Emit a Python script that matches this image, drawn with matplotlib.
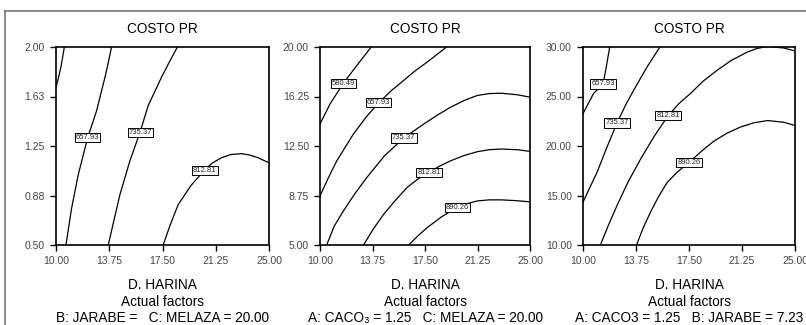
import matplotlib
matplotlib.use("Agg")
import matplotlib.pyplot as plt
from matplotlib.lines import Line2D

plt.rcParams['font.family'] = ['Liberation Sans', 'DejaVu Sans']

x_ticks = [10.0, 13.75, 17.5, 21.25, 25.0]
x_ticklabels = ["10.00", "13.75", "17.50", "21.25", "25.00"]

# Panel 1: axis 0.5-2.0
p1_yticks = [0.5, 0.875, 1.25, 1.625, 2.0]
p1_yticklabels = ["0.50", "0.88", "1.25", "1.63", "2.00"]
p1_c580 = [(10.59, 2.0), (10.35, 1.85), (10.16, 1.76), (10.0, 1.695)]
p1_c658 = [(13.91, 2.0), (13.7, 1.89), (13.45, 1.771), (12.86, 1.517), (12.23, 1.313),
           (11.57, 1.034), (11.10, 0.78), (10.70, 0.5)]
p1_c735 = [(18.55, 2.0), (18.0, 1.89), (17.43, 1.771), (16.49, 1.555), (15.91, 1.352),
           (15.20, 1.136), (14.50, 0.881), (13.68, 0.5)]
p1_c813 = [(17.55, 0.5), (18.0, 0.64), (18.60, 0.805), (19.5, 0.95), (20.43, 1.064),
           (21.0, 1.12), (21.65, 1.161), (22.3, 1.185), (23.06, 1.192), (23.7, 1.18),
           (24.23, 1.161), (25.0, 1.123)]
p1_labels = [("657.93", 12.23, 1.313), ("735.37", 15.95, 1.352), ("812.81", 20.47, 1.064)]

# Panel 2: axis 5-20
p2_yticks = [5.0, 8.75, 12.5, 16.25, 20.0]
p2_yticklabels = ["5.00", "8.75", "12.50", "16.25", "20.00"]
p2_c580 = [(10.0, 14.17), (10.72, 15.69), (11.67, 17.26), (12.63, 18.6), (13.66, 20.0)]
p2_c658 = [(10.0, 8.72), (10.6, 10.1), (11.2, 11.38), (12.39, 13.41), (13.3, 14.7),
           (14.19, 15.77), (15.1, 16.7), (15.98, 17.47), (16.8, 18.2), (17.66, 18.86),
           (19.04, 20.0)]
p2_c735 = [(10.48, 5.0), (11.0, 6.4), (11.67, 7.58), (12.5, 8.9), (13.35, 10.12),
           (14.6, 11.75), (15.98, 13.11), (17.42, 14.17), (18.4, 14.85), (19.33, 15.44),
           (20.3, 15.95), (21.24, 16.33), (22.1, 16.47), (22.92, 16.5), (24.11, 16.38),
           (25.0, 16.2)]
p2_c813 = [(13.11, 5.0), (13.8, 6.2), (14.55, 7.33), (15.4, 8.4), (16.22, 9.36),
           (17.0, 10.0), (17.78, 10.5), (18.5, 10.95), (19.33, 11.38), (20.3, 11.78),
           (21.24, 12.07), (22.1, 12.22), (22.92, 12.27), (24.11, 12.22), (25.0, 12.09)]
p2_c890 = [(16.34, 5.0), (17.0, 5.7), (17.66, 6.32), (18.7, 7.15), (19.81, 7.84),
           (20.5, 8.13), (21.24, 8.34), (22.1, 8.42), (22.92, 8.42), (24.0, 8.36),
           (25.0, 8.27)]
p2_labels = [("580.49", 11.67, 17.26), ("657.93", 14.19, 15.77), ("735.37", 15.98, 13.11),
             ("812.81", 17.78, 10.5), ("890.26", 19.81, 7.84)]

# Panel 3: axis 10-30
p3_yticks = [10.0, 15.0, 20.0, 25.0, 30.0]
p3_yticklabels = ["10.00", "15.00", "20.00", "25.00", "30.00"]
p3_c658 = [(10.0, 23.27), (10.76, 25.33), (11.42, 26.27), (11.65, 28.0), (11.89, 30.0)]
p3_c735 = [(10.0, 14.33), (10.99, 17.33), (11.7, 19.9), (12.41, 22.33), (13.0, 24.1),
           (13.6, 25.67), (14.54, 28.0), (15.44, 30.0)]
p3_c813 = [(11.23, 10.0), (11.8, 12.0), (12.41, 14.0), (13.2, 16.4), (14.07, 18.67),
           (15.0, 20.9), (16.03, 23.07), (16.8, 24.3), (17.62, 25.33), (18.5, 26.55),
           (19.51, 27.67), (20.5, 28.65), (21.64, 29.5), (22.3, 29.85), (23.06, 30.05),
           (24.2, 29.9), (25.0, 29.6)]
p3_c890 = [(13.79, 10.0), (14.25, 11.7), (14.78, 13.33), (15.35, 14.9), (15.96, 16.33),
           (16.7, 17.4), (17.5, 18.33), (18.4, 19.5), (19.27, 20.5), (20.2, 21.3),
           (21.17, 21.93), (22.1, 22.35), (23.06, 22.57), (24.2, 22.4), (25.0, 22.07)]
p3_labels = [("657.93", 11.42, 26.27), ("735.37", 12.41, 22.33),
             ("812.81", 16.03, 23.07), ("890.26", 17.5, 18.33)]

titles = ["COSTO PR", "COSTO PR", "COSTO PR"]
xlabel = "D. HARINA"
sub1 = "Actual factors"
factor_lines = ["B: JARABE =   C: MELAZA = 20.00",
                "A: CACO\u2083 = 1.25   C: MELAZA = 20.00",
                "A: CACO3 = 1.25   B: JARABE = 7.23"]

panels = [
    (p1_yticks, p1_yticklabels, [p1_c580, p1_c658, p1_c735, p1_c813], p1_labels),
    (p2_yticks, p2_yticklabels, [p2_c580, p2_c658, p2_c735, p2_c813, p2_c890], p2_labels),
    (p3_yticks, p3_yticklabels, [p3_c658, p3_c735, p3_c813, p3_c890], p3_labels),
]

W, H = 806, 325
fig = plt.figure(figsize=(W / 100, H / 100), dpi=100)
fig.patch.set_facecolor("white")

lefts = [56, 320, 583]
rights = [269, 530, 795]
top_px, bot_px = 47, 245

for i, (yt, ytl, curves, labels) in enumerate(panels):
    l, r = lefts[i], rights[i]
    ax = fig.add_axes([l / W, 1 - bot_px / H, (r - l) / W, (bot_px - top_px) / H])
    for c in curves:
        xs = [p[0] for p in c]
        ys = [p[1] for p in c]
        ax.plot(xs, ys, color="black", lw=0.9, solid_joinstyle="round")
    for txt, lx, ly in labels:
        ax.text(lx, ly, txt, fontsize=5.5, ha="center", va="center", color="#222222",
                bbox=dict(boxstyle="square,pad=0.15", fc="white", ec="black", lw=0.7),
                zorder=5)
    ax.set_xlim(10, 25)
    ax.set_ylim(yt[0], yt[-1])
    ax.set_xticks(x_ticks)
    ax.set_xticklabels(x_ticklabels)
    ax.set_yticks(yt)
    ax.set_yticklabels(ytl)
    ax.tick_params(direction="out", length=4, width=1, labelsize=7.5,
                   labelcolor="#444444", pad=4)
    for s in ax.spines.values():
        s.set_linewidth(1.2)
    cx = (l + r) / 2 / W
    fig.text(cx, 1 - 29 / H, titles[i], ha="center", va="center", fontsize=9.8)
    fig.text(cx, 1 - 285 / H, xlabel, ha="center", va="center", fontsize=9.8)
    fig.text(cx, 1 - 302 / H, sub1, ha="center", va="center", fontsize=9.8)
    fig.text(cx, 1 - 318 / H, factor_lines[i], ha="center", va="center", fontsize=9.8)

# outer scan frame (top and left edges)
fig.add_artist(Line2D([5 / W, 1], [1 - 11 / H, 1 - 11 / H], color="#777777", lw=1.2,
                      transform=fig.transFigure))
fig.add_artist(Line2D([5 / W, 5 / W], [0, 1 - 11 / H], color="#777777", lw=1.2,
                      transform=fig.transFigure))

fig.savefig("out.png", dpi=100)
